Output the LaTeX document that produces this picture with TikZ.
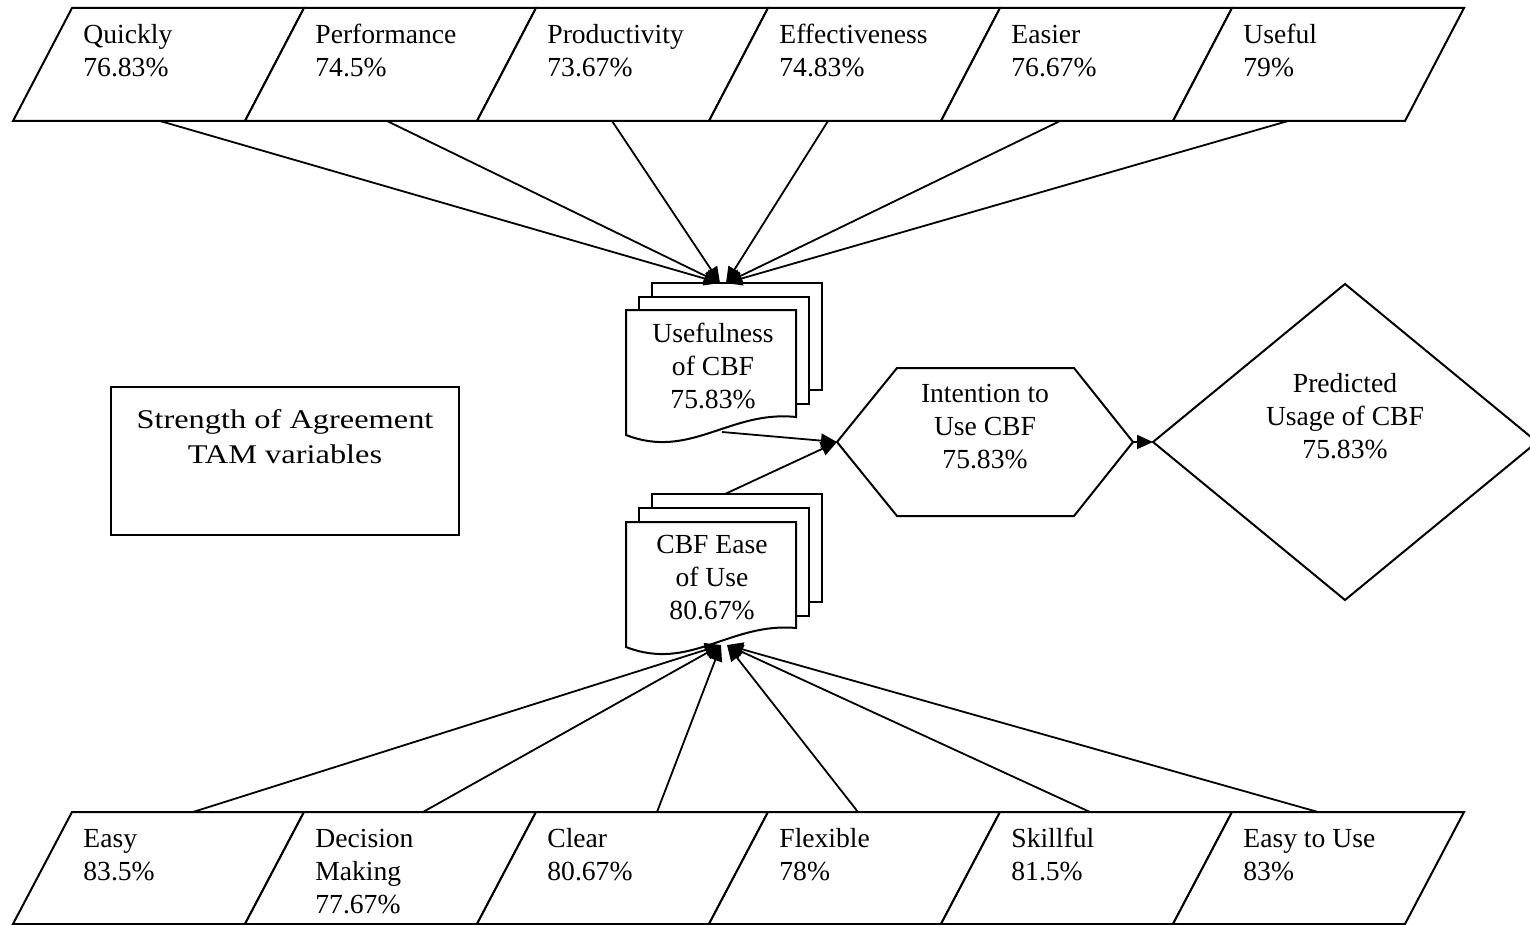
\documentclass[tikz,border=0pt]{standalone}
\usepackage{fontspec}
\setmainfont{Liberation Serif}
\newfontfamily\widefont[FakeStretch=1.2]{Liberation Serif}
\usetikzlibrary{arrows.meta}
% fixes the height of a first line so that its baseline sits at a known place
\newcommand\mystrut{\rule{0pt}{10pt}}
\newcommand\bigstrut{\rule{0pt}{12pt}}
\begin{document}
\begin{tikzpicture}[x=0.5pt,y=-0.5pt,
  outline/.style={draw=black,line width=1pt,fill=white,line join=miter},
  link/.style={draw=black,line width=0.9pt,-{Triangle[length=8pt,width=7pt]}},
  itemtext/.style={inner sep=0pt,font=\fontsize{13.8}{16.5}\selectfont,align=left,anchor=north west},
  ctext/.style={inner sep=0pt,font=\fontsize{13.8}{16.5}\selectfont,align=center,anchor=north},
  boxtext/.style={inner sep=0pt,font=\widefont\fontsize{13.5}{17.5}\selectfont,align=center,anchor=north},
]
\useasboundingbox (0,0) rectangle (1530,925);

% perceived usefulness items (top row)
\foreach \i/\nm/\txt/\sx in {
  0/quickly/{Quickly\\76.83\%}/160,
  1/performance/{Performance\\74.5\%}/387,
  2/productivity/{Productivity\\73.67\%}/612,
  3/effectiveness/{Effectiveness\\74.83\%}/828,
  4/easier/{Easier\\76.67\%}/1060,
  5/useful/{Useful\\79\%}/1288}{
  \draw[outline] (13+232*\i+59,8) -- ++(232,0) -- ++(-59,113) -- ++(-232,0) -- cycle;
  \node[itemtext] (\nm) at (13+232*\i+70,23) {\mystrut\txt};
  \coordinate (\nm-out) at (\sx,121);
}

% perceived ease of use items (bottom row)
\foreach \i/\nm/\txt/\sx in {
  0/easy/{Easy\\83.5\%}/193,
  1/decision/{Decision\\Making\\77.67\%}/423,
  2/clear/{Clear\\80.67\%}/657,
  3/flexible/{Flexible\\78\%}/858,
  4/skillful/{Skillful\\81.5\%}/1090,
  5/easytouse/{Easy to Use\\83\%}/1318}{
  \draw[outline] (13+232*\i+59,812) -- ++(232,0) -- ++(-59,112) -- ++(-232,0) -- cycle;
  \node[itemtext] (\nm) at (13+232*\i+70,827) {\mystrut\txt};
  \coordinate (\nm-out) at (\sx,812);
}

% stacked documents: usefulness
\begin{scope}[shift={(626,310)}]
  \draw[outline] (26,-27) rectangle (196,80);
  \draw[outline] (13,-13) rectangle (183,94);
  \draw[outline] (0,0) -- (170,0) -- (170,107) .. controls (104,100) and (64,150) .. (0,125) -- cycle;
\end{scope}
\node[ctext] (usefulness) at (713,322) {\mystrut Usefulness\\of CBF\\75.83\%};

% stacked documents: ease of use
\begin{scope}[shift={(626,522)}]
  \draw[outline] (26,-28) rectangle (196,80);
  \draw[outline] (13,-14) rectangle (183,94);
  \draw[outline] (0,0) -- (170,0) -- (170,106) .. controls (104,100) and (64,150) .. (0,125) -- cycle;
\end{scope}
\node[ctext] (easeofuse) at (712,533) {\mystrut CBF Ease\\of Use\\80.67\%};

% intention (hexagon)
\draw[outline] (837,442) -- (897,368) -- (1074,368) -- (1133,442) -- (1074,516) -- (897,516) -- cycle;
\node[ctext] (intention) at (985,382) {\mystrut Intention to\\Use CBF\\75.83\%};

% predicted usage (diamond)
\draw[outline] (1153,442) -- (1345,284) -- (1537,442) -- (1345,600) -- cycle;
\node[ctext] (usage) at (1345,372) {\mystrut Predicted\\Usage of CBF\\75.83\%};

% legend box
\draw[outline] (111,387) rectangle (459,535);
\node[boxtext] (strength) at (285,404) {\bigstrut Strength of Agreement\\TAM variables};

% connection points
\coordinate (use-inL) at (720,283);
\coordinate (use-inR) at (726,283);
\coordinate (use-out) at (722,432);
\coordinate (ease-inL) at (721,645);
\coordinate (ease-inR) at (727,645);
\coordinate (ease-out) at (725,494);
\coordinate (int-in) at (837,442);
\coordinate (int-out) at (1133,442);
\coordinate (usage-in) at (1153,442);

% connectors
\foreach \nm in {quickly,performance,productivity}
  \draw[link] (\nm-out) -- (use-inL);
\foreach \nm in {effectiveness,easier,useful}
  \draw[link] (\nm-out) -- (use-inR);
\foreach \nm in {easy,decision,clear}
  \draw[link] (\nm-out) -- (ease-inL);
\foreach \nm in {flexible,skillful,easytouse}
  \draw[link] (\nm-out) -- (ease-inR);
\draw[link] (use-out) -- (int-in);
\draw[link] (ease-out) -- (int-in);
\draw[link] (int-out) -- (usage-in);
\end{tikzpicture}
\end{document}
